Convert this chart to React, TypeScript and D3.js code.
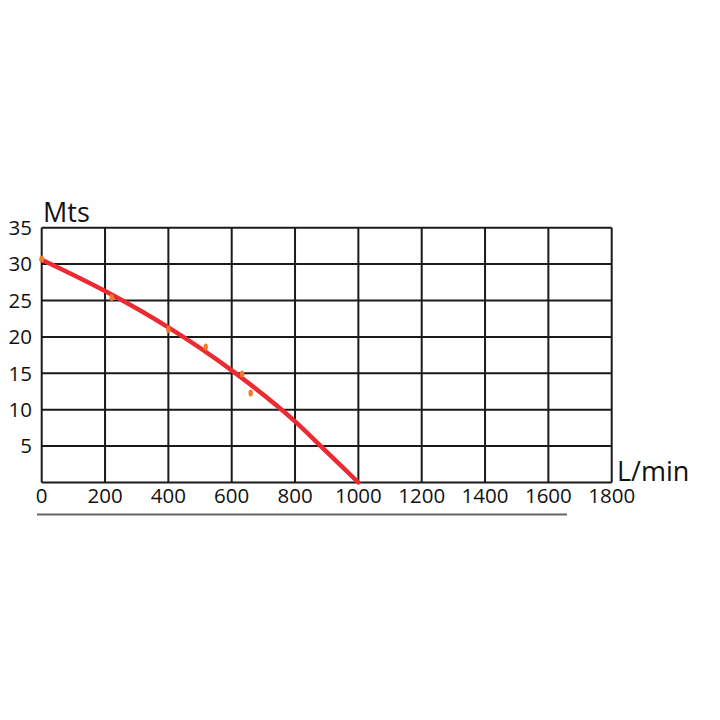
import React from "react";
import * as d3 from "d3";

const xTicks = [0, 200, 400, 600, 800, 1000, 1200, 1400, 1600, 1800];
const yTicks = [5, 10, 15, 20, 25, 30, 35];
const curveFlow = [0, 200, 400, 600, 800, 900, 1000];
const curveHead = [30.6, 26.3, 21.3, 15.4, 8.4, 4.2, 0];
const pointFlow = [0, 221, 400, 518, 633, 660];
const pointHead = [30.7, 25.4, 21.0, 18.6, 14.9, 12.3];

export default function App() {
  const W = 720, H = 720;
  const x = d3.scaleLinear().domain([0, 1800]).range([41.7, 611.7]);
  const y = d3.scaleLinear().domain([0, 35]).range([482.5, 227.7]);
  const font = "'Open Sans', 'Noto Sans', sans-serif";
  const line = d3
    .line<number>()
    .x((_, i) => x(curveFlow[i]))
    .y((d) => y(d))
    .curve(d3.curveMonotoneX);
  return (
    <svg width={W} height={H} style={{ position: "absolute", left: 0, top: 0, background: "#fff" }}>
      <rect width={W} height={H} fill="#fff" />
      {xTicks.map((t) => (
        <line key={"gx" + t} x1={x(t)} x2={x(t)} y1={y(35)} y2={y(0)} stroke="#1a1a1a" strokeWidth={2} />
      ))}
      {[0, ...yTicks].map((t) => (
        <line key={"gy" + t} x1={x(0)} x2={x(1800)} y1={y(t)} y2={y(t)} stroke="#1a1a1a" strokeWidth={2} />
      ))}
      {yTicks.map((t) => (
        <text key={"ty" + t} x={32} y={y(t)} dy="0.36em" textAnchor="end" fontFamily={font} fontSize={20.5} fill="#111">
          {t}
        </text>
      ))}
      {xTicks.map((t) => (
        <text key={"tx" + t} x={x(t)} y={503} textAnchor="middle" fontFamily={font} fontSize={20.5} fill="#111">
          {t}
        </text>
      ))}
      <text x={43} y={221.5} fontFamily={font} fontSize={27} fill="#111">Mts</text>
      <text x={617} y={481} fontFamily={font} fontSize={27} fill="#111">L/min</text>
      <line x1={37} x2={567} y1={514.5} y2={514.5} stroke="#666" strokeWidth={2} />
      <path d={line(curveHead) || ""} fill="none" stroke="#ec2a31" strokeWidth={4.5} strokeLinecap="round" />
      {pointFlow.map((f, i) => (
        <ellipse key={"p" + i} cx={x(f)} cy={y(pointHead[i])} rx={2.2} ry={3.5} fill="#f47a2a" />
      ))}
    </svg>
  );
}
